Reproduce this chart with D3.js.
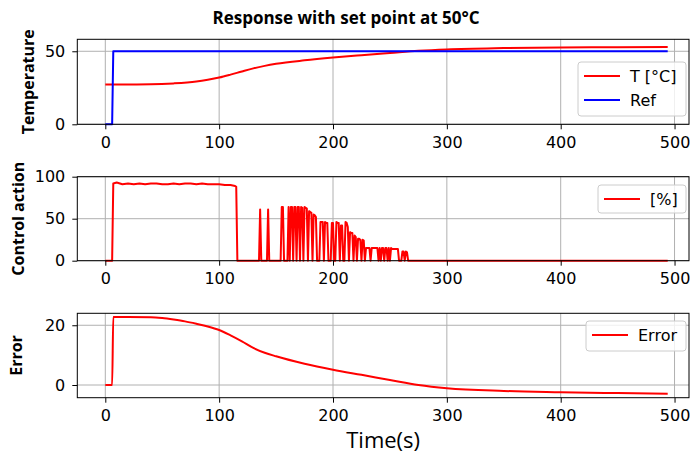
<!DOCTYPE html>
<html>
<head>
<meta charset="utf-8">
<script src="https://cdn.jsdelivr.net/npm/d3@7"></script>
<style>
  body { margin: 0; background: #fff; }
  text { font-family: "Open Sans", sans-serif; fill: #000; }
</style>
</head>
<body>
<svg id="chart" width="692" height="454"></svg>
<script>
// temperature response
const tempTime = [0, 20, 40, 60, 80, 90, 100, 110, 120, 130, 140, 150, 175, 200, 225, 250, 275, 300, 350, 400, 450, 494];
const tempValues = [27.3, 27.3, 27.4, 28.0, 29.3, 30.5, 32.0, 34.0, 36.2, 38.3, 40.0, 41.4, 43.8, 45.7, 47.3, 48.8, 50.3, 51.3, 52.2, 52.6, 52.8, 53.0];

// set point
const refTime = [0, 6, 7, 494];
const refValues = [0, 0, 50, 50];

// control action [%]
const ctrlTime = [0, 6, 7, 10, 15, 20, 25, 30, 35, 40, 45, 50, 55, 60, 65, 70, 75, 80, 85, 90, 95, 100, 105, 110, 114, 115, 116,
    135, 136, 137, 142, 143, 144, 154, 155, 156, 157, 160, 161, 162, 163, 164, 165, 166, 167, 168, 169, 170, 171, 172, 173,
    174, 175, 176, 177, 178, 179, 180, 181, 182, 183, 184, 185, 186, 188, 189, 190, 191, 192, 193, 194, 195, 196, 198,
    199, 200, 201, 202, 203, 204, 205, 206, 207, 208, 209, 210, 211, 212, 213, 214, 215, 216, 217, 218, 219, 220, 221,
    222, 223, 224, 225, 226, 227, 228, 229, 230, 231, 232, 233, 234, 235, 236, 237, 238, 239, 240, 241, 242, 243, 244,
    245, 246, 247, 248, 249, 250, 251, 252, 253, 254, 255, 256, 257, 258, 260, 261, 262, 263, 264, 265, 266, 494];
const ctrlValues = [0, 0, 92, 93, 91, 92, 91, 92, 91, 92, 92, 91, 91, 92, 91, 92, 92, 91, 92, 91, 91, 91, 90, 90, 89, 88, 0,
    0, 61, 0, 0, 61, 0, 0, 64, 64, 0, 0, 64, 0, 64, 64, 0, 64, 64, 0, 64, 64, 0, 64, 63,
    0, 64, 63, 62, 0, 59, 58, 57, 0, 55, 54, 52, 0, 0, 46, 46, 46, 0, 46, 45, 45, 0, 0,
    45, 45, 0, 0, 46, 45, 45, 0, 42, 42, 0, 0, 46, 45, 40, 0, 34, 33, 33, 0, 30, 28, 0,
    26, 26, 25, 0, 25, 24, 0, 15, 15, 15, 15, 0, 15, 15, 15, 15, 15, 15, 0, 15, 0, 15, 15,
    0, 15, 15, 0, 15, 0, 15, 14, 14, 14, 14, 14, 14, 0, 0, 11, 11, 0, 11, 10, 0, 0];

// error
const errTime = [0, 6, 7, 20, 40, 50, 60, 70, 80, 90, 100, 110, 120, 130, 140, 150, 175, 200, 225, 250, 275, 300, 350, 400, 450, 494];
const errValues = [0, 0, 22.8, 22.8, 22.7, 22.4, 21.9, 21.3, 20.5, 19.6, 18.4, 16.6, 14.6, 12.4, 10.8, 9.6, 7.1, 5.1, 3.4, 1.7, 0.0, -1.1, -2.0, -2.4, -2.7, -2.9];

const xTicks = [0, 100, 200, 300, 400, 500];

const svg = d3.select("#chart");
const plotLeft = 77.3, plotRight = 689;

const x = d3.scaleLinear().domain([-24.6, 512.7]).range([plotLeft, plotRight]);

const zip = (ts, vs) => ts.map((t, i) => ({ t, v: vs[i] }));

const panels = [
    { top: 39.3, bottom: 124.3, domain: [0, 58.2], ticks: [0, 50], label: "Temperature", labelX: 28,
      series: [
          { data: zip(tempTime, tempValues), color: "#ff0000", name: "T [°C]", smooth: true },
          { data: zip(refTime, refValues), color: "#0000ff", name: "Ref" }
      ],
      legend: { x: 578, y: 62, w: 108, h: 54 } },
    { top: 176.7, bottom: 260.7, domain: [0, 100], ticks: [0, 50, 100], label: "Control action", labelX: 18,
      series: [{ data: zip(ctrlTime, ctrlValues), color: "#ff0000", name: "[%]" }],
      legend: { x: 598, y: 185, w: 88, h: 28 } },
    { top: 313.3, bottom: 397.7, domain: [-4.25, 24.0], ticks: [0, 20], label: "Error", labelX: 16,
      series: [{ data: zip(errTime, errValues), color: "#ff0000", name: "Error", smooth: true }],
      legend: { x: 586, y: 321, w: 100, h: 30 } }
];

panels.forEach(drawPanel);

svg.append("text")
    .attr("x", 346).attr("y", 24)
    .attr("text-anchor", "middle")
    .style("font-size", "17px").style("font-weight", "bold")
    .text("Response with set point at 50°C");

svg.append("text")
    .attr("x", (plotLeft + plotRight) / 2).attr("y", 448)
    .attr("text-anchor", "middle")
    .style("font-size", "22px")
    .text("Time(s)");

function drawPanel(p) {
    const y = d3.scaleLinear().domain(p.domain).range([p.bottom, p.top]);
    const g = svg.append("g");

    // grid
    g.selectAll(".gx").data(xTicks).join("line")
        .attr("x1", d => x(d)).attr("x2", d => x(d))
        .attr("y1", p.top).attr("y2", p.bottom)
        .attr("stroke", "#b0b0b0").attr("stroke-width", 1);
    g.selectAll(".gy").data(p.ticks).join("line")
        .attr("x1", plotLeft).attr("x2", plotRight)
        .attr("y1", d => y(d)).attr("y2", d => y(d))
        .attr("stroke", "#b0b0b0").attr("stroke-width", 1);

    // series
    p.series.forEach(s => {
        const line = d3.line()
            .x(d => x(d.t)).y(d => y(d.v))
            .curve(s.smooth ? d3.curveMonotoneX : d3.curveLinear);
        g.append("path")
            .datum(s.data)
            .attr("fill", "none")
            .attr("stroke", s.color)
            .attr("stroke-width", 2)
            .attr("stroke-linejoin", "round")
            .attr("d", line);
    });

    // frame
    g.append("rect")
        .attr("x", plotLeft).attr("y", p.top)
        .attr("width", plotRight - plotLeft).attr("height", p.bottom - p.top)
        .attr("fill", "none").attr("stroke", "#000").attr("stroke-width", 1);

    const xAxis = g.append("g")
        .attr("transform", `translate(0,${p.bottom})`)
        .call(d3.axisBottom(x).tickValues(xTicks).tickSize(5).tickPadding(7));
    const yAxis = g.append("g")
        .attr("transform", `translate(${plotLeft},0)`)
        .call(d3.axisLeft(y).tickValues(p.ticks).tickSize(5).tickPadding(7));
    [xAxis, yAxis].forEach(a => {
        a.select(".domain").remove();
        a.selectAll("text").style("font-size", "16px").style("font-family", "'DejaVu Sans', sans-serif").attr("fill", "#000");
        a.selectAll("line").attr("stroke", "#000");
    });

    // y label
    svg.append("text")
        .attr("transform", `translate(${p.labelX},${(p.top + p.bottom) / 2}) rotate(-90)`)
        .attr("text-anchor", "middle")
        .attr("dy", "0.35em")
        .style("font-size", "16px").style("font-weight", "bold")
        .text(p.label);

    // legend
    const L = p.legend;
    const lg = g.append("g");
    lg.append("rect")
        .attr("x", L.x).attr("y", L.y).attr("width", L.w).attr("height", L.h)
        .attr("rx", 3)
        .attr("fill", "#fff").attr("fill-opacity", 0.8)
        .attr("stroke", "#cccccc");
    p.series.forEach((s, i) => {
        const cy = L.y + 14 + i * 24;
        lg.append("line")
            .attr("x1", L.x + 6).attr("x2", L.x + 42)
            .attr("y1", cy).attr("y2", cy)
            .attr("stroke", s.color).attr("stroke-width", 2);
        lg.append("text")
            .attr("x", L.x + 52).attr("y", cy)
            .attr("dy", "0.35em")
            .style("font-size", "16px").style("font-family", "'DejaVu Sans', sans-serif")
            .text(s.name);
    });
}
</script>
</body>
</html>
